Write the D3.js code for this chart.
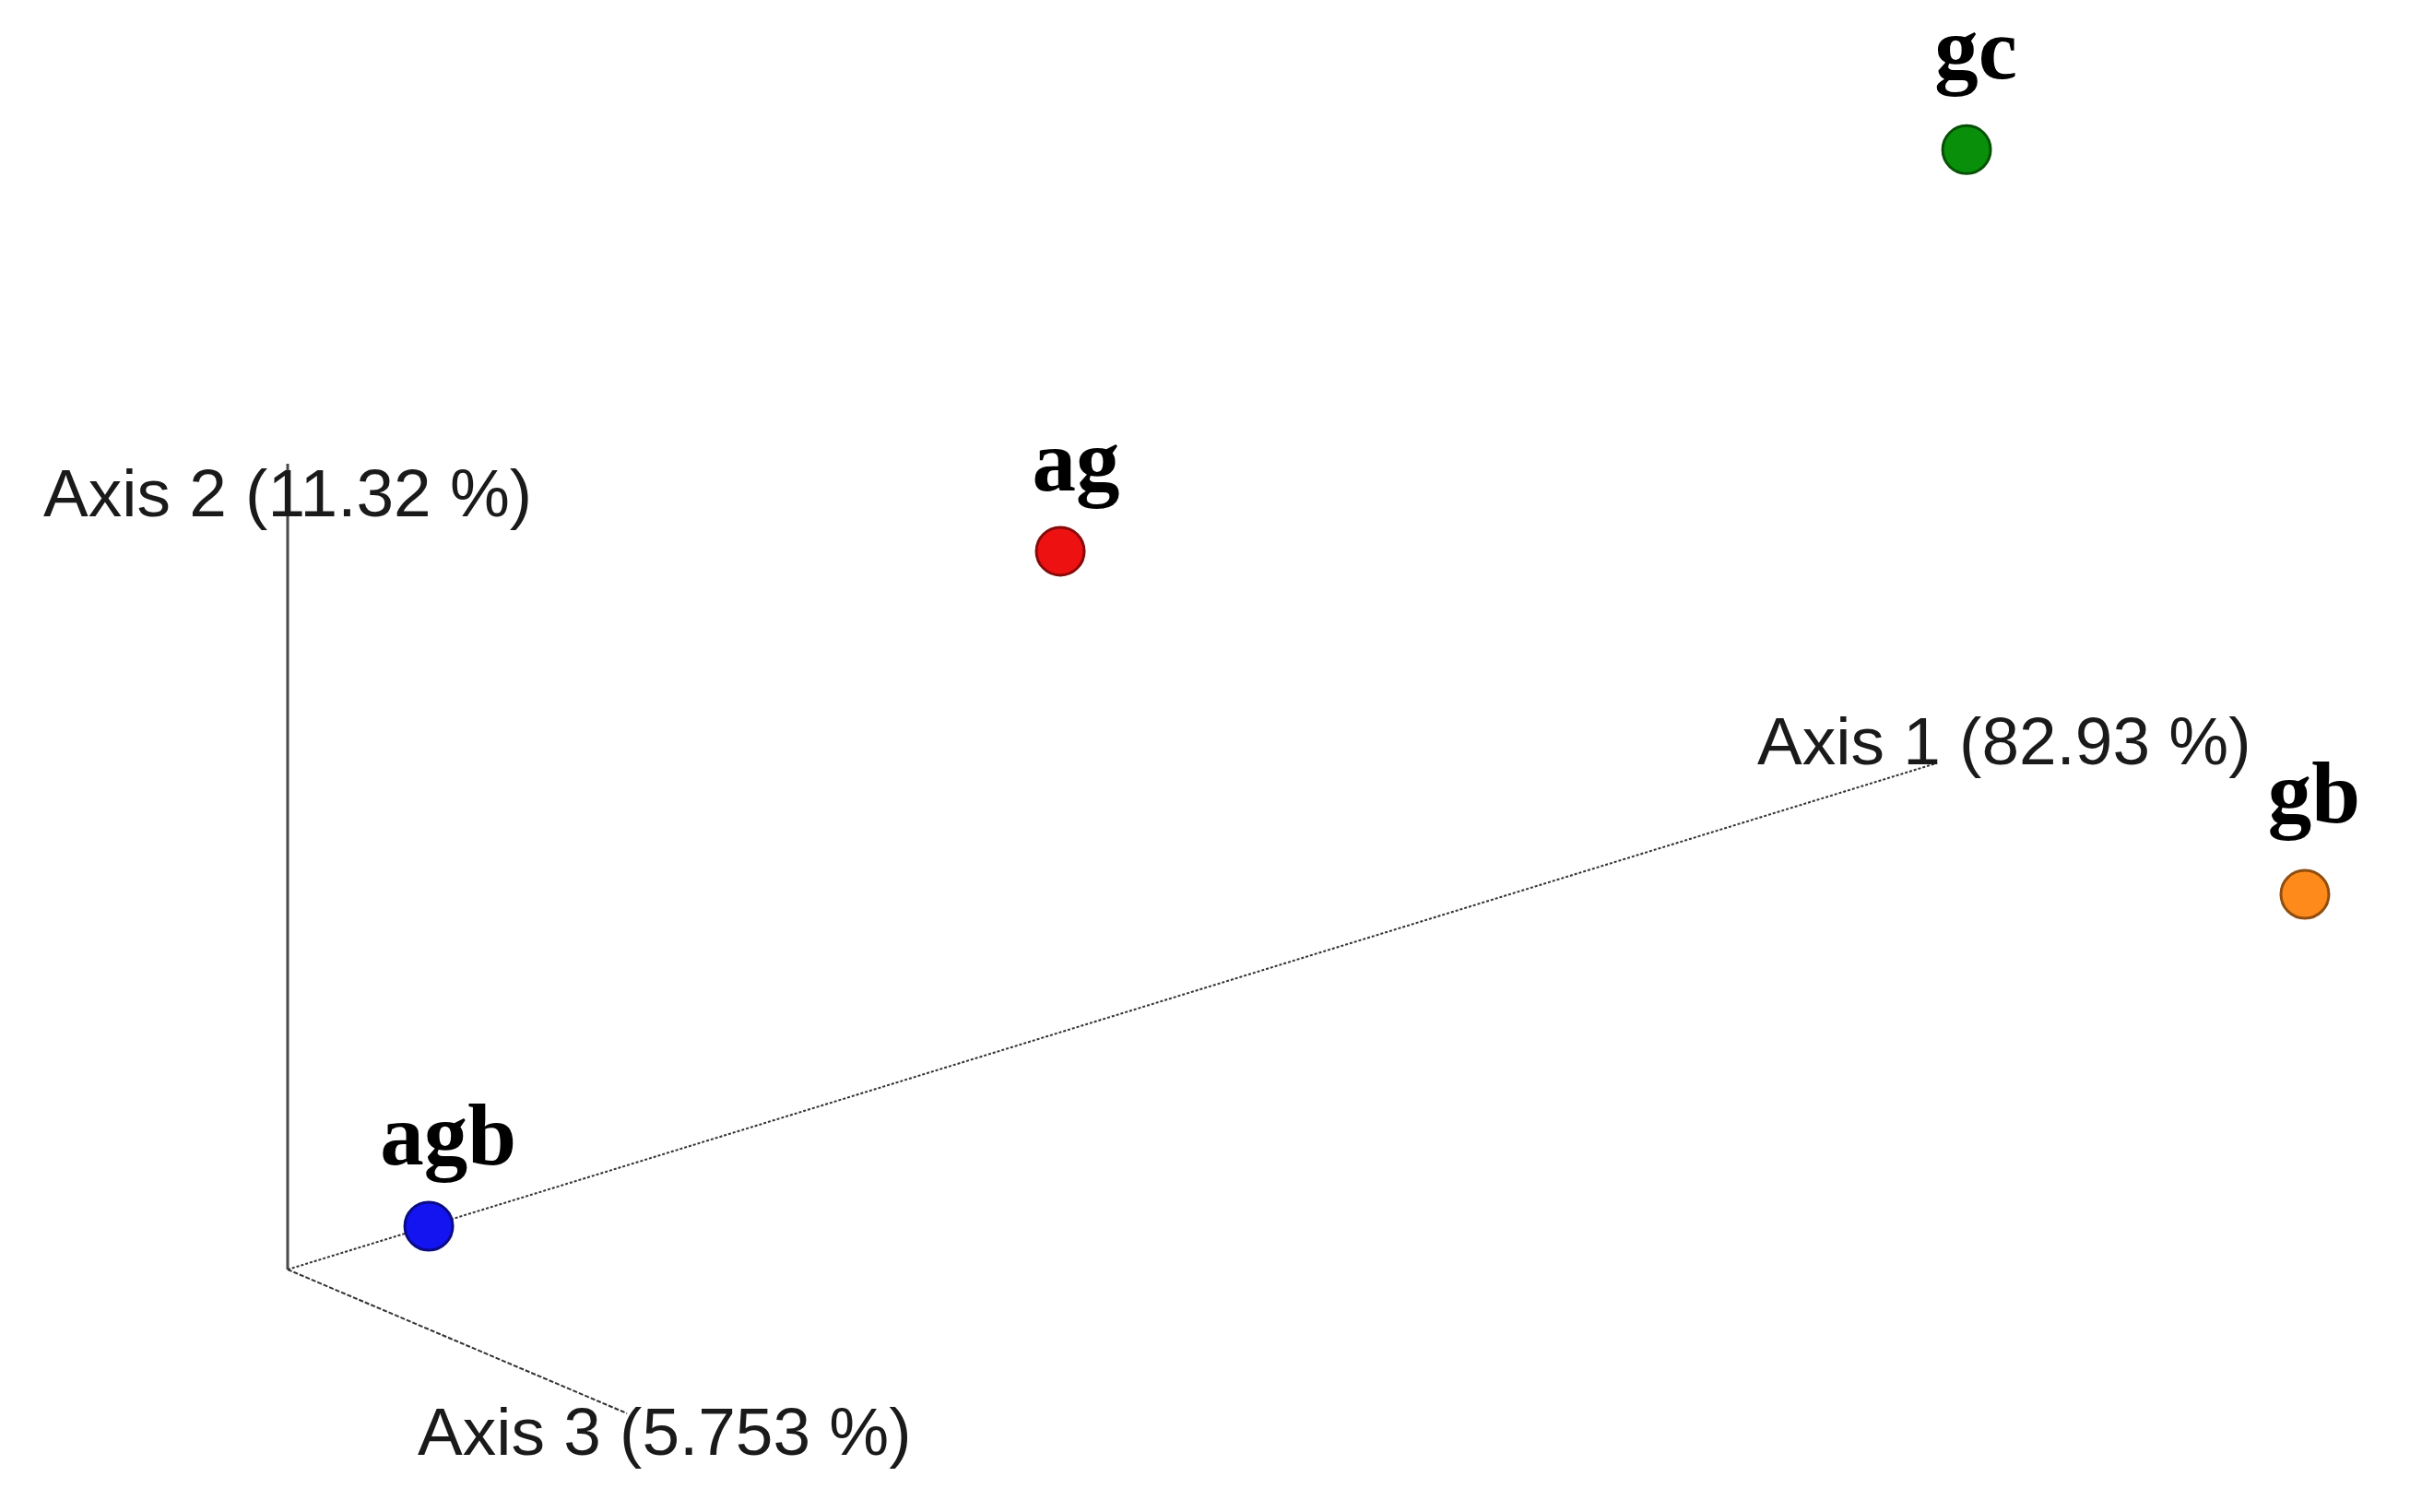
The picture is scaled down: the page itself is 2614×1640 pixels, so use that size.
<!DOCTYPE html>
<html>
<head>
<meta charset="utf-8">
<script src="https://cdn.jsdelivr.net/npm/d3@7/dist/d3.min.js"></script>
<style>
  html, body { margin: 0; padding: 0; background: #fff; }
  svg { display: block; }
</style>
</head>
<body>
<script>
// ---- data (PCoA coordinates, axis units) ----
const samples = ["gc", "ag", "gb", "agb"];
const axis1Values = [1.0185, 0.4687, 1.2237, 0.0856];
const axis2Values = [0.750, 0.597, -0.303, 0.0];
const axis3Values = [0.0, 0.0, 0.0, 0.0];
const colors = ["#0a8f0a", "#ee1111", "#ff8a1c", "#1414f0"];
const axisTitles = ["Axis 1 (82.93 %)", "Axis 2 (11.32 %)", "Axis 3 (5.753 %)"];

// label nudges (layout only)
const labelNudge = [[10, -77], [17, -66], [10, -78], [21, -67]];

const W = 2614, H = 1640;
const svg = d3.select("body").append("svg").attr("width", W).attr("height", H);

// oblique projection: origin + per-axis screen displacement scales
const origin = [312, 1377];
const a1x = d3.scaleLinear().domain([0, 1]).range([0, 1788]);
const a1y = d3.scaleLinear().domain([0, 1]).range([0, -549]);
const a2y = d3.scaleLinear().domain([0, 1]).range([0, -874]);
const a3x = d3.scaleLinear().domain([0, 1]).range([0, 368]);
const a3y = d3.scaleLinear().domain([0, 1]).range([0, 156]);

const proj = (v1, v2, v3) => [
  origin[0] + a1x(v1) + a3x(v3),
  origin[1] + a1y(v1) + a2y(v2) + a3y(v3)
];

const g = svg.append("g");

// axes
const e1 = proj(1, 0, 0), e2 = proj(0, 1, 0), e3 = proj(0, 0, 1);
g.append("line").attr("x1", origin[0]).attr("y1", origin[1]).attr("x2", e2[0]).attr("y2", e2[1])
  .attr("stroke", "#4a4a4a").attr("stroke-width", 3);
g.append("line").attr("x1", origin[0]).attr("y1", origin[1]).attr("x2", e1[0]).attr("y2", e1[1])
  .attr("stroke", "#333").attr("stroke-width", 2).attr("stroke-dasharray", "3,2");
g.append("line").attr("x1", origin[0]).attr("y1", origin[1]).attr("x2", e3[0]).attr("y2", e3[1])
  .attr("stroke", "#333").attr("stroke-width", 2).attr("stroke-dasharray", "5,2");

// axis titles
const axisFont = "'Liberation Sans', Arial, sans-serif";
const titlePos = [[e1[0] - 194, e1[1] + 1], [e2[0] - 265, e2[1] + 57], [e3[0] - 227, e3[1] + 45]];
g.selectAll("text.axis-title").data(axisTitles).enter().append("text")
  .attr("class", "axis-title")
  .attr("x", (d, i) => titlePos[i][0]).attr("y", (d, i) => titlePos[i][1])
  .attr("font-family", axisFont).attr("font-size", 73).attr("fill", "#1a1a1a")
  .text(d => d);

// points
const pts = samples.map((s, i) => ({ name: s, p: proj(axis1Values[i], axis2Values[i], axis3Values[i]), c: colors[i], n: labelNudge[i] }));

g.selectAll("circle.pt").data(pts).enter().append("circle")
  .attr("class", "pt")
  .attr("cx", d => d.p[0]).attr("cy", d => d.p[1]).attr("r", 26)
  .attr("fill", d => d.c).attr("stroke", d => d3.color(d.c).darker(1.6)).attr("stroke-width", 3);

g.selectAll("text.lbl").data(pts).enter().append("text")
  .attr("class", "lbl")
  .attr("x", d => d.p[0] + d.n[0]).attr("y", d => d.p[1] + d.n[1])
  .attr("text-anchor", "middle")
  .attr("font-family", "'Liberation Serif', 'Times New Roman', serif")
  .attr("font-weight", "bold").attr("font-size", 95).attr("fill", "#000")
  .text(d => d.name);
</script>
</body>
</html>
